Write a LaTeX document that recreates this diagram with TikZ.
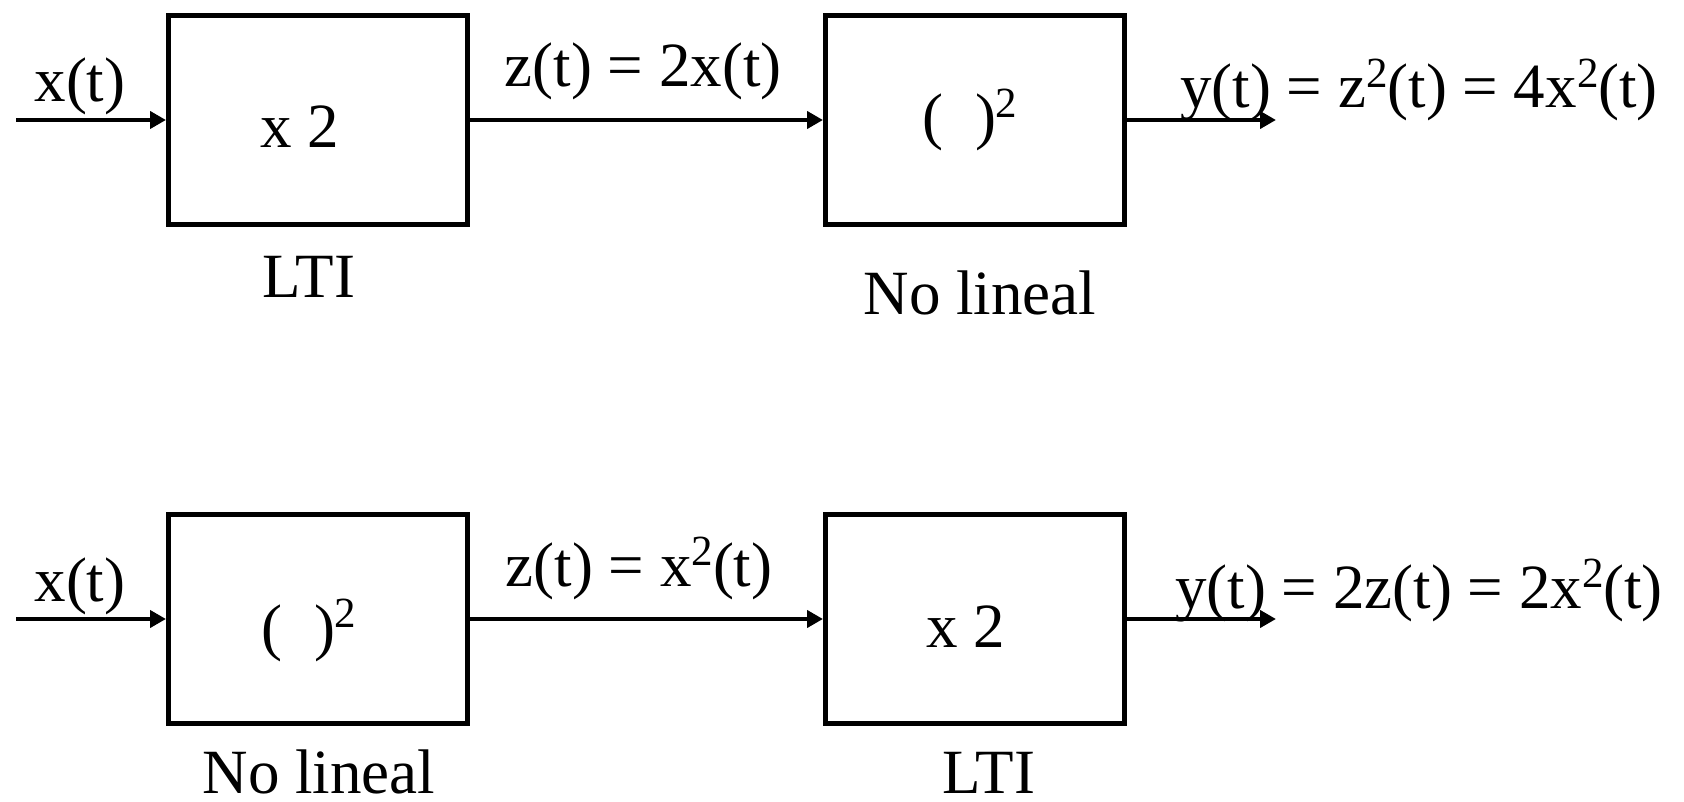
\documentclass[tikz,border=0pt]{standalone}
\usepackage{fontspec}
\setmainfont{Liberation Serif}
\usetikzlibrary{arrows.meta}
\newcommand\supii{\raisebox{0.33em}{\fontsize{43}{43}\selectfont 2}}
\begin{document}
\begin{tikzpicture}[x=1pt,y=-1pt,
  blk/.style={draw, line width=5pt, minimum width=299pt, minimum height=209pt, inner sep=0pt},
  lbl/.style={anchor=base, inner sep=0pt, font=\fontsize{63}{75}\selectfont},
  sig/.style={line width=4.5pt, -{Triangle[length=16pt,width=17pt]}}]
\useasboundingbox (0,0) rectangle (1684,802);
% top row
\node[blk] (b1) at (318,120) {};
\node[blk] (b2) at (975,120) {};
\coordinate (in1) at (16,120);
\coordinate (out1) at (1276,120);
\draw[sig] (in1) -- (b1.west);
\draw[sig] (b1.east) -- (b2.west);
\draw[sig] (b2.east) -- (out1);
\node[lbl] (x1) at (80,102) {x(t)};
\node[lbl] (t1) at (300,148) {x 2};
\node[lbl] (l1) at (309,298) {LTI};
\node[lbl] (z1) at (643,87) {z(t) = 2x(t)};
\node[lbl] (t2) at (970,138) {(\hspace{0.5em})\supii};
\node[lbl] (l2) at (980,315) {No lineal};
\node[lbl] (y1) at (1419,108) {y(t) = z\supii(t) = 4x\supii(t)};
% bottom row
\node[blk] (b3) at (318,619) {};
\node[blk] (b4) at (975,619) {};
\coordinate (in2) at (16,619);
\coordinate (out2) at (1276,619);
\draw[sig] (in2) -- (b3.west);
\draw[sig] (b3.east) -- (b4.west);
\draw[sig] (b4.east) -- (out2);
\node[lbl] (x2) at (80,601) {x(t)};
\node[lbl] (t3) at (309,648) {(\hspace{0.5em})\supii};
\node[lbl] (l3) at (319,793) {No lineal};
\node[lbl] (z2) at (639,586) {z(t) = x\supii(t)};
\node[lbl] (t4) at (966,647) {x 2};
\node[lbl] (l4) at (989,793) {LTI};
\node[lbl] (y2) at (1419,608) {y(t) = 2z(t) = 2x\supii(t)};
\end{tikzpicture}
\end{document}
